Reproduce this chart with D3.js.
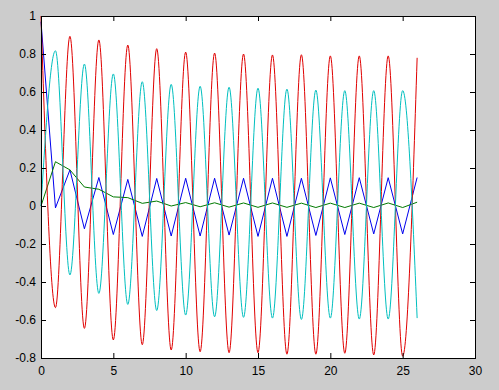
<!DOCTYPE html>
<html>
<head>
<meta charset="utf-8">
<script src="https://cdn.jsdelivr.net/npm/d3@7"></script>
<style>
  body { margin: 0; background: #cccccc; }
  svg { display: block; }
  .tick text { font-family: "Liberation Sans", Arial, sans-serif; font-size: 12px; fill: #000; }
</style>
</head>
<body>
<div id="chart"></div>
<script>
// sample times (integer steps)
const t = d3.range(0, 27)

// series, one value per t
const blueVals = [0.97, -0.01, 0.19, -0.12, 0.15, -0.15, 0.14, -0.16, 0.145, -0.158,
    0.146, -0.158, 0.146, -0.153, 0.146, -0.16, 0.146, -0.16, 0.146, -0.155,
    0.148, -0.15, 0.149, -0.147, 0.149, -0.147, 0.15]
const greenVals = [0, 0.233, 0.19, 0.10, 0.088, 0.048, 0.044, 0.014, 0.026, 0.0,
    0.018, -0.004, 0.017, -0.006, 0.016, -0.007, 0.016, -0.007, 0.015, -0.008,
    0.015, -0.008, 0.015, -0.008, 0.016, -0.008, 0.02]
const redVals = [1.0, -0.535, 0.893, -0.644, 0.874, -0.705, 0.847, -0.73, 0.828, -0.758,
    0.81, -0.767, 0.805, -0.772, 0.80, -0.772, 0.795, -0.78, 0.796, -0.78,
    0.79, -0.775, 0.79, -0.784, 0.79, -0.79, 0.78]
const cyanVals = [0, 0.817, -0.363, 0.747, -0.46, 0.695, -0.518, 0.654, -0.55, 0.64,
    -0.574, 0.63, -0.583, 0.625, -0.586, 0.62, -0.59, 0.615, -0.597, 0.61,
    -0.59, 0.607, -0.595, 0.607, -0.595, 0.607, -0.59]

const xTicks = [0, 5, 10, 15, 20, 25, 30]
const yTicks = [-0.8, -0.6, -0.4, -0.2, 0, 0.2, 0.4, 0.6, 0.8, 1]

const width = 499, height = 390
const box = {left: 41, top: 16, right: 475, bottom: 358}

const svg = d3.select("#chart")
    .append("svg")
    .attr("width", width)
    .attr("height", height)

svg.append("rect")
    .attr("width", width)
    .attr("height", height)
    .attr("fill", "#cccccc")

const x = d3.scaleLinear().domain([0, 30]).range([box.left, box.right])
const y = d3.scaleLinear().domain([-0.8, 1]).range([box.bottom, box.top])

// white axes area
svg.append("rect")
    .attr("x", box.left + 0.5)
    .attr("y", box.top + 0.5)
    .attr("width", box.right - box.left)
    .attr("height", box.bottom - box.top)
    .attr("fill", "#fff")

const fmt = v => String(+v.toFixed(1))

// lines, in matlab colour order
const series = [
    {vals: blueVals, color: "#0000ee", curve: d3.curveLinear},
    {vals: greenVals, color: "#007a00", curve: d3.curveLinear},
    {vals: redVals, color: "#e00000", curve: d3.curveMonotoneX},
    {vals: cyanVals, color: "#00bfbf", curve: d3.curveMonotoneX},
]

series.forEach(s => {
    const line = d3.line()
        .x((d, i) => x(t[i]))
        .y(d => y(d))
        .curve(s.curve)
    svg.append("path")
        .datum(s.vals)
        .attr("fill", "none")
        .attr("stroke", s.color)
        .attr("stroke-width", 1)
        .attr("d", line)
})

// axes with inward ticks
const gx = svg.append("g")
    .attr("transform", `translate(0,${box.bottom})`)
    .call(d3.axisBottom(x).tickValues(xTicks).tickFormat(fmt).tickSizeInner(-5).tickSizeOuter(0).tickPadding(8))
const gy = svg.append("g")
    .attr("transform", `translate(${box.left},0)`)
    .call(d3.axisLeft(y).tickValues(yTicks).tickFormat(fmt).tickSizeInner(-5).tickSizeOuter(0).tickPadding(5))
const gTop = svg.append("g")
    .attr("transform", `translate(0,${box.top})`)
    .call(d3.axisBottom(x).tickValues(xTicks).tickFormat("").tickSizeInner(5).tickSizeOuter(0))
const gRight = svg.append("g")
    .attr("transform", `translate(${box.right},0)`)
    .call(d3.axisLeft(y).tickValues(yTicks).tickFormat("").tickSizeInner(5).tickSizeOuter(0))

;[gx, gy, gTop, gRight].forEach(g => {
    g.select(".domain").remove()
    g.selectAll(".tick line").attr("stroke", "#000")
})

// box frame
svg.append("rect")
    .attr("x", box.left + 0.5)
    .attr("y", box.top + 0.5)
    .attr("width", box.right - box.left)
    .attr("height", box.bottom - box.top)
    .attr("fill", "none")
    .attr("stroke", "#000")
</script>
</body>
</html>
